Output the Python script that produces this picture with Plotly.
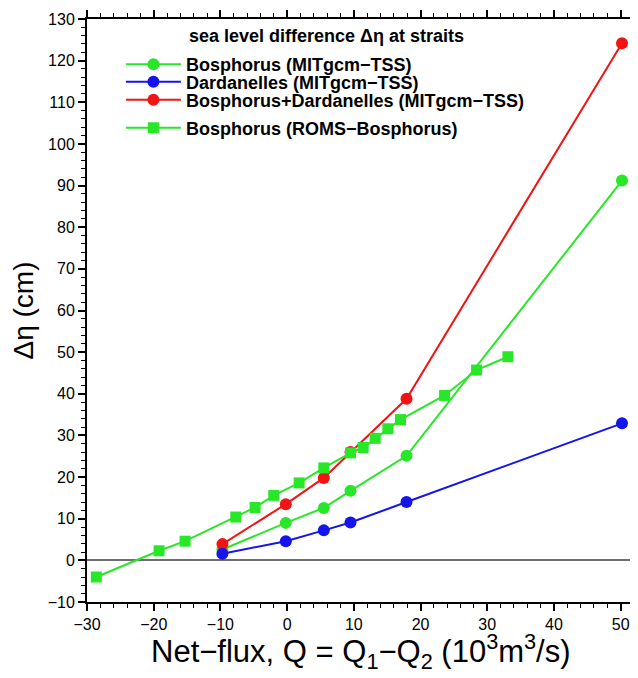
import plotly.graph_objects as go

# MITgcm-TSS experiments
q_mit = [-9.7, -0.2, 5.5, 9.5, 17.9, 50.2]
bosph_mit = [2.6, 9.0, 12.6, 16.7, 25.1, 91.2]
dard_mit = [1.6, 4.6, 7.2, 9.1, 14.0, 32.9]
both_mit = [3.9, 13.5, 19.8, 26.0, 38.8, 124.2]

# ROMS-Bosphorus experiments
q_roms = [-28.6, -19.2, -15.3, -7.7, -4.8, -2.0, 1.8, 5.5, 9.5, 11.4, 13.2, 15.1, 17.0, 23.6, 28.4, 33.1]
bosph_roms = [-4.0, 2.3, 4.6, 10.4, 12.7, 15.6, 18.6, 22.2, 25.8, 27.1, 29.3, 31.6, 33.8, 39.6, 45.7, 48.9]

GREEN = "rgb(40,230,40)"
BLUE = "rgb(20,20,235)"
RED = "rgb(240,20,20)"
FONT = "Liberation Sans, Arial, sans-serif"

fig = go.Figure()
fig.add_trace(go.Scatter(x=q_mit, y=bosph_mit, mode="lines+markers",
                         name="<b>Bosphorus (MITgcm\u2212TSS)</b>", legend="legend", showlegend=True,
                         line=dict(color=GREEN, width=2), marker=dict(symbol="circle", size=12, color=GREEN)))
fig.add_trace(go.Scatter(x=q_mit, y=both_mit, mode="lines+markers",
                         name="<b>Bosphorus+Dardanelles (MITgcm\u2212TSS)</b>", legend="legend3", showlegend=True,
                         line=dict(color=RED, width=2), marker=dict(symbol="circle", size=12, color=RED)))
fig.add_trace(go.Scatter(x=q_mit, y=dard_mit, mode="lines+markers",
                         name="<b>Dardanelles (MITgcm\u2212TSS)</b>", legend="legend2", showlegend=True,
                         line=dict(color=BLUE, width=2), marker=dict(symbol="circle", size=12, color=BLUE)))
fig.add_trace(go.Scatter(x=q_roms, y=bosph_roms, mode="lines+markers",
                         name="<b>Bosphorus (ROMS\u2212Bosphorus)</b>", legend="legend4", showlegend=True,
                         line=dict(color=GREEN, width=2), marker=dict(symbol="square", size=11, color=GREEN)))

axis_common = dict(showline=True, linecolor="black", linewidth=2, mirror="ticks",
                   ticks="outside", ticklen=7, tickwidth=1.5, tickcolor="black",
                   showgrid=False, automargin=False,
                   tickfont=dict(family=FONT, size=16, color="black"))

fig.update_xaxes(range=[-30, 52], dtick=10, tick0=-30,
                 minor=dict(ticks="outside", ticklen=4, dtick=2, tickcolor="black", tickwidth=1),
                 zeroline=False,
                 **axis_common)
fig.update_yaxes(range=[-10, 130], dtick=10,
                 minor=dict(ticks="outside", ticklen=4, dtick=2, tickcolor="black", tickwidth=1),
                 zeroline=True, zerolinecolor="rgb(110,110,110)", zerolinewidth=1.5,
                 title=dict(text="\u0394\u03b7 (cm)",
                            font=dict(family=FONT, size=28, color="black"),
                            standoff=14),
                 **axis_common)

fig.add_annotation(text="Net\u2212flux, Q = Q<sub>1</sub>\u2212Q<sub>2</sub> (10<sup>3</sup>m<sup>3</sup>/s)",
                   xref="paper", yref="paper", x=0.5, y=-0.0848, xanchor="center", yanchor="middle",
                   showarrow=False,
                   font=dict(family=FONT, size=31, color="black"))

fig.add_annotation(text="<b>sea level difference \u0394\u03b7 at straits</b>",
                   xref="paper", yref="paper", x=0.182, y=0.971, xanchor="left", yanchor="middle",
                   showarrow=False,
                   font=dict(family=FONT, size=18, color="black"))

leg = dict(x=0.062, xanchor="left", yanchor="middle", bgcolor="rgba(0,0,0,0)",
           itemwidth=55, font=dict(family=FONT, size=18, color="black"))

# the page body adds an 8 px offset; the figure is sized so that it fills the window
fig.update_layout(
    width=630, height=670,
    margin=dict(l=79, r=4, t=11, b=76),
    plot_bgcolor="white", paper_bgcolor="white",
    showlegend=True,
    legend=dict(y=0.922, **leg),
    legend2=dict(y=0.892, **leg),
    legend3=dict(y=0.861, **leg),
    legend4=dict(y=0.813, **leg),
)

fig.write_html("out.html")
